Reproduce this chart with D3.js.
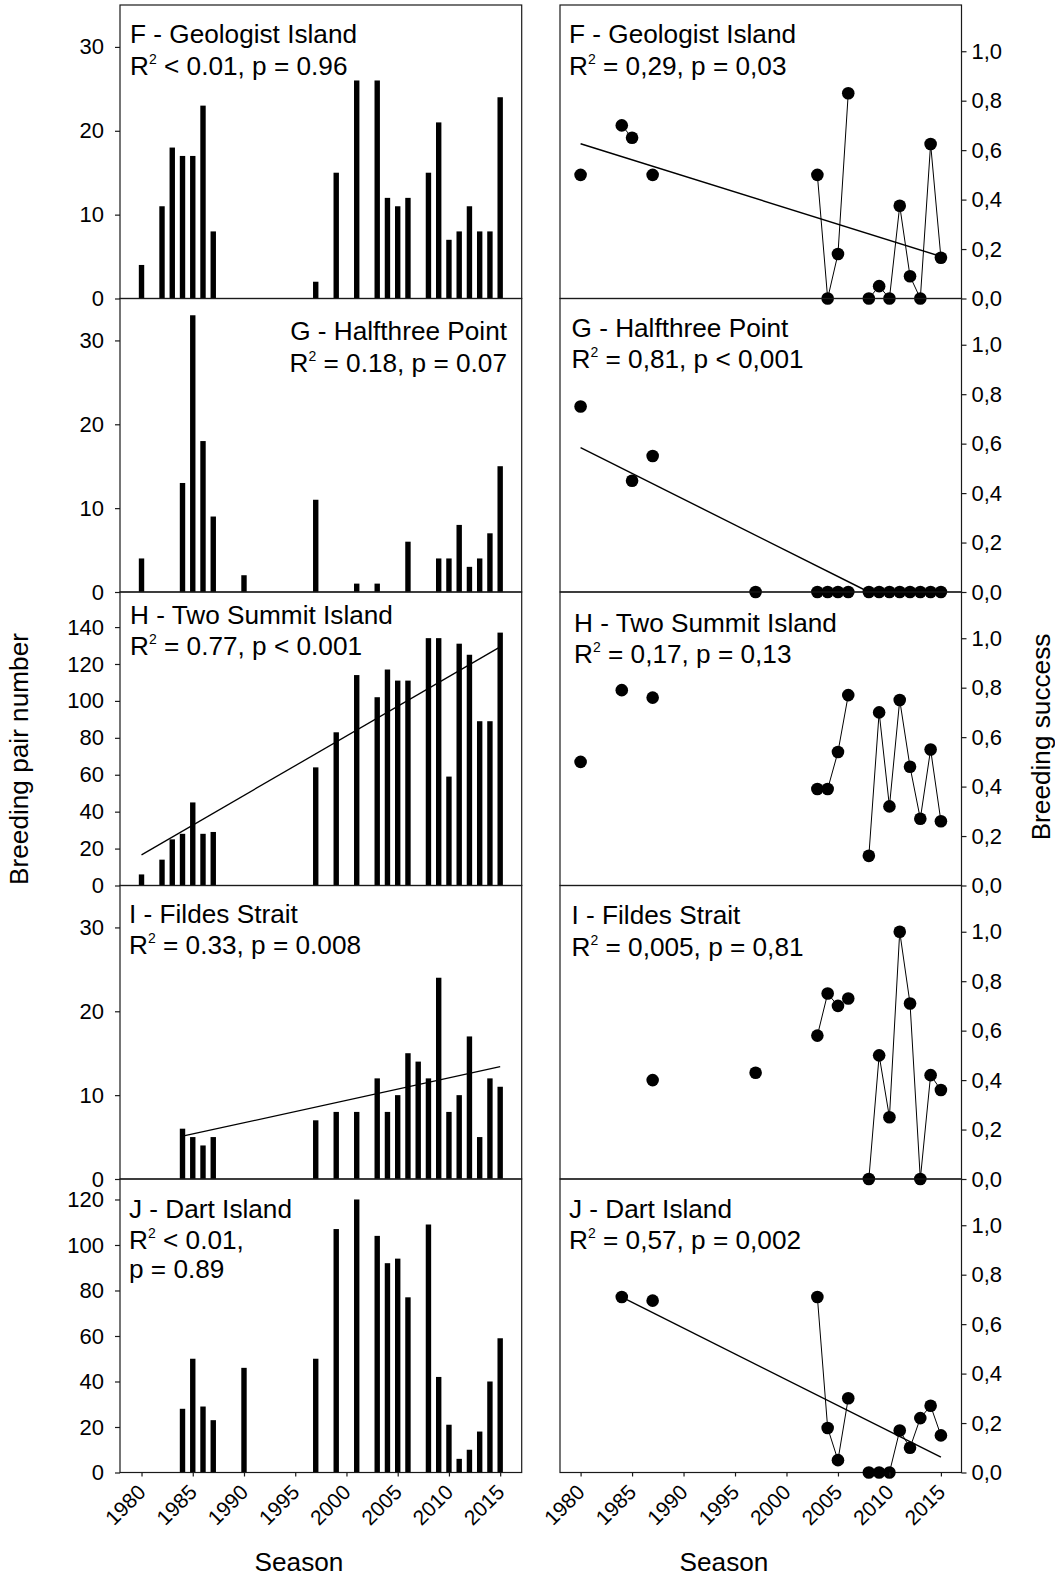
<!DOCTYPE html>
<html>
<head>
<meta charset="utf-8">
<script src="https://cdn.jsdelivr.net/npm/d3@7"></script>
<style>
body { margin: 0; background: #fff; }
svg { display: block; font-family: "Liberation Sans", Arial, sans-serif; }
text { white-space: pre; }
</style>
</head>
<body>
<div id="chart"></div>
<script>

// breeding pair numbers (left column)
const fPairYears = [1980,1982,1983,1984,1985,1986,1987,1997,1999,2001,2003,2004,2005,2006,2008,2009,2010,2011,2012,2013,2014,2015];
const fPairs     = [4,11,18,17,17,23,8,2,15,26,26,12,11,12,15,21,7,8,11,8,8,24];

const gPairYears = [1980,1984,1985,1986,1987,1990,1997,2001,2003,2006,2009,2010,2011,2012,2013,2014,2015];
const gPairs     = [4,13,33,18,9,2,11,1,1,6,4,4,8,3,4,7,15];

const hPairYears = [1980,1982,1983,1984,1985,1986,1987,1997,1999,2001,2003,2004,2005,2006,2008,2009,2010,2011,2012,2013,2014,2015];
const hPairs     = [6,14,25,28,45,28,29,64,83,114,102,117,111,111,134,134,59,131,125,89,89,137];

const iPairYears = [1984,1985,1986,1987,1997,1999,2001,2003,2004,2005,2006,2007,2008,2009,2010,2011,2012,2013,2014,2015];
const iPairs     = [6,5,4,5,7,8,8,12,8,10,15,14,12,24,8,10,17,5,12,11];

const jPairYears = [1984,1985,1986,1987,1990,1997,1999,2001,2003,2004,2005,2006,2008,2009,2010,2011,2012,2013,2014,2015];
const jPairs     = [28,50,29,23,46,50,107,120,104,92,94,77,109,42,21,6,10,18,40,59];

// breeding success (right column)
const fSuccYears = [1980,1984,1985,1987,2003,2004,2005,2006,2008,2009,2010,2011,2012,2013,2014,2015];
const fSucc      = [0.5,0.70,0.65,0.5,0.5,0,0.18,0.83,0,0.05,0,0.375,0.09,0,0.625,0.165];

const gSuccYears = [1980,1985,1987,1997,2003,2004,2005,2006,2008,2009,2010,2011,2012,2013,2014,2015];
const gSucc      = [0.75,0.45,0.55,0,0,0,0,0,0,0,0,0,0,0,0,0];

const hSuccYears = [1980,1984,1987,2003,2004,2005,2006,2008,2009,2010,2011,2012,2013,2014,2015];
const hSucc      = [0.5,0.79,0.76,0.39,0.39,0.54,0.77,0.12,0.70,0.32,0.75,0.48,0.27,0.55,0.26];

const iSuccYears = [1987,1997,2003,2004,2005,2006,2008,2009,2010,2011,2012,2013,2014,2015];
const iSucc      = [0.40,0.43,0.58,0.75,0.70,0.73,0,0.50,0.25,1.0,0.71,0,0.42,0.36];

const jSuccYears = [1984,1987,2003,2004,2005,2006,2008,2009,2010,2011,2012,2013,2014,2015];
const jSucc      = [0.71,0.695,0.71,0.18,0.05,0.30,0,0,0,0.17,0.10,0.22,0.27,0.15];

// regression lines (end points)
const hPairTrend = [[1980, 16.6], [2015, 129.3]];
const iPairTrend = [[1984, 5.1], [2015, 13.4]];
const fSuccTrend = [[1980, 0.626], [2015, 0.17]];
const gSuccTrend = [[1980, 0.584], [2008, 0]];
const jSuccTrend = [[1984, 0.709], [2015, 0.062]];

const siteNames = ["F - Geologist Island", "G - Halfthree Point", "H - Two Summit Island", "I - Fildes Strait", "J - Dart Island"];
const pairStats = [["< 0.01, p = 0.96"], ["= 0.18, p = 0.07"], ["= 0.77, p < 0.001"], ["= 0.33, p = 0.008"], ["< 0.01,", "p = 0.89"]];
const succStats = [["= 0,29, p = 0,03"], ["= 0,81, p < 0,001"], ["= 0,17, p = 0,13"], ["= 0,005, p = 0,81"], ["= 0,57, p = 0,002"]];

const pairMax = [35, 35, 159, 35, 129];
const pairTicks = [[0,10,20,30], [0,10,20,30], [0,20,40,60,80,100,120,140], [0,10,20,30], [0,20,40,60,80,100,120]];
const succTicks = [0, 0.2, 0.4, 0.6, 0.8, 1.0];
const seasonTicks = [1980, 1985, 1990, 1995, 2000, 2005, 2010, 2015];

const width = 1055, height = 1577;
const rowTop = 5, rowH = 293.5;
const leftX = [120, 521.7], rightX = [560, 961.5];
const ink = "#1a1a1a";
const labelSize = 26.2;

// label placement per panel
const pairLabelPos = [
	{x: 130, anchor: "start", ys: [38, 70]},
	{x: 507, anchor: "end", ys: [41, 73]},
	{x: 130, anchor: "start", ys: [32, 63]},
	{x: 129, anchor: "start", ys: [37, 68]},
	{x: 129, anchor: "start", ys: [39, 70, 99]}
];
const succLabelPos = [
	{x: 569, anchor: "start", ys: [38, 70]},
	{x: 571.5, anchor: "start", ys: [38.5, 69.5]},
	{x: 574, anchor: "start", ys: [40, 71]},
	{x: 571.5, anchor: "start", ys: [38.5, 70]},
	{x: 569, anchor: "start", ys: [38.7, 70.3]}
];

let svg = d3.select("#chart")
			.append("svg")
			.attr("width", width)
			.attr("height", height);

svg.append("rect").attr("width", width).attr("height", height).attr("fill", "#fff");

const xLeft = d3.scaleLinear().domain([1977.9, 2017.1]).range(leftX);
const xRight = d3.scaleLinear().domain([1978, 2017]).range(rightX);

function addLabel(row, pos, name, stats) {
	const top = rowTop + row * rowH;
	svg.append("text")
		.attr("x", pos.x)
		.attr("y", top + pos.ys[0])
		.attr("text-anchor", pos.anchor)
		.attr("font-size", labelSize)
		.attr("fill", "#000")
		.text(name);

	stats.forEach((s, i) => {
		let t = svg.append("text")
			.attr("x", pos.x)
			.attr("y", top + pos.ys[i + 1])
			.attr("text-anchor", pos.anchor)
			.attr("font-size", labelSize)
			.attr("fill", "#000");
		if (i === 0) {
			t.append("tspan").text("R");
			t.append("tspan").attr("font-size", 14).attr("dy", -11).text("2");
			t.append("tspan").attr("dy", 11).text(" " + s);
		} else {
			t.text(s);
		}
	});
}

// split a series into runs of consecutive seasons
function withGaps(years, values) {
	let pts = [];
	years.forEach((yr, i) => {
		if (i > 0 && yr - years[i - 1] > 1) pts.push(null);
		pts.push([yr, values[i]]);
	});
	return pts;
}

function frame(x0, x1, top) {
	svg.append("rect")
		.attr("x", x0)
		.attr("y", top)
		.attr("width", x1 - x0)
		.attr("height", rowH)
		.attr("fill", "none")
		.attr("stroke", ink)
		.attr("stroke-width", 1.2);
}

function drawPairs(row, years, pairs, trend) {
	const top = rowTop + row * rowH;
	const bottom = top + rowH;
	const yScale = d3.scaleLinear().domain([0, pairMax[row]]).range([bottom, top]);

	const data = years.map((yr, i) => ({year: yr, pairs: pairs[i]}));

	svg.append("g")
		.selectAll("rect")
		.data(data)
		.enter()
		.append("rect")
		.attr("x", (d) => xLeft(d.year) - 2.7)
		.attr("y", (d) => yScale(d.pairs))
		.attr("width", 5.4)
		.attr("height", (d) => bottom - yScale(d.pairs))
		.attr("fill", "#000");

	if (trend) {
		svg.append("path")
			.attr("d", d3.line().x(d => xLeft(d[0])).y(d => yScale(d[1]))(trend))
			.attr("fill", "none")
			.attr("stroke", "#000")
			.attr("stroke-width", 1.3);
	}

	frame(leftX[0], leftX[1], top);

	const yAxis = d3.axisLeft(yScale)
					.tickValues(pairTicks[row])
					.tickSize(5)
					.tickPadding(11)
					.tickFormat(d3.format("d"));
	let ag = svg.append("g")
		.attr("transform", `translate(${leftX[0]},0)`)
		.call(yAxis);
	ag.select(".domain").remove();
	ag.selectAll("line").attr("stroke", ink).attr("stroke-width", 1.2);
	ag.selectAll("text").attr("font-size", 22).attr("fill", "#000").attr("font-family", null);
}

function drawSuccess(row, years, succ, trend) {
	const top = rowTop + row * rowH;
	const bottom = top + rowH;
	const yScale = d3.scaleLinear().domain([0, 1.187]).range([bottom, top]);

	if (trend) {
		svg.append("path")
			.attr("d", d3.line().x(d => xRight(d[0])).y(d => yScale(d[1]))(trend))
			.attr("fill", "none")
			.attr("stroke", "#000")
			.attr("stroke-width", 1.4);
	}

	const pts = withGaps(years, succ);
	svg.append("path")
		.attr("d", d3.line().defined(d => d !== null).x(d => xRight(d[0])).y(d => yScale(d[1]))(pts))
		.attr("fill", "none")
		.attr("stroke", "#000")
		.attr("stroke-width", 1);

	frame(rightX[0], rightX[1], top);

	svg.append("g")
		.selectAll("circle")
		.data(years.map((yr, i) => ({year: yr, succ: succ[i]})))
		.enter()
		.append("circle")
		.attr("cx", (d) => xRight(d.year))
		.attr("cy", (d) => yScale(d.succ))
		.attr("r", 6.3)
		.attr("fill", "#000");

	const yAxis = d3.axisRight(yScale)
					.tickValues(succTicks)
					.tickSize(5)
					.tickPadding(5)
					.tickFormat(d => d3.format(".1f")(d).replace(".", ","));
	let ag = svg.append("g")
		.attr("transform", `translate(${rightX[1]},0)`)
		.call(yAxis);
	ag.select(".domain").remove();
	ag.selectAll("line").attr("stroke", ink).attr("stroke-width", 1.2);
	ag.selectAll("text").attr("font-size", 22).attr("fill", "#000").attr("font-family", null);
}

function seasonAxis(xScale) {
	const bottom = rowTop + 5 * rowH;
	const xAxis = d3.axisBottom(xScale)
					.tickValues(seasonTicks)
					.tickSize(4)
					.tickFormat(d3.format("d"));
	let ag = svg.append("g")
		.attr("transform", `translate(0,${bottom})`)
		.call(xAxis);
	ag.select(".domain").remove();
	ag.selectAll("line").attr("stroke", ink).attr("stroke-width", 1.2);
	ag.selectAll("text")
		.attr("font-size", 21)
		.attr("fill", "#000")
		.attr("font-family", null)
		.attr("x", 0)
		.attr("y", 0)
		.attr("dy", 0)
		.attr("transform", "translate(5,21) rotate(-45)")
		.style("text-anchor", "end");
}

drawPairs(0, fPairYears, fPairs, null);
drawPairs(1, gPairYears, gPairs, null);
drawPairs(2, hPairYears, hPairs, hPairTrend);
drawPairs(3, iPairYears, iPairs, iPairTrend);
drawPairs(4, jPairYears, jPairs, null);

drawSuccess(0, fSuccYears, fSucc, fSuccTrend);
drawSuccess(1, gSuccYears, gSucc, gSuccTrend);
drawSuccess(2, hSuccYears, hSucc, null);
drawSuccess(3, iSuccYears, iSucc, null);
drawSuccess(4, jSuccYears, jSucc, jSuccTrend);

siteNames.forEach((name, i) => {
	addLabel(i, pairLabelPos[i], name, pairStats[i]);
	addLabel(i, succLabelPos[i], name, succStats[i]);
});

seasonAxis(xLeft);
seasonAxis(xRight);

svg.append("text")
	.attr("x", 299)
	.attr("y", 1571)
	.attr("text-anchor", "middle")
	.attr("font-size", labelSize)
	.text("Season");

svg.append("text")
	.attr("x", 724)
	.attr("y", 1571)
	.attr("text-anchor", "middle")
	.attr("font-size", labelSize)
	.text("Season");

svg.append("text")
	.attr("transform", "translate(28,759) rotate(-90)")
	.attr("text-anchor", "middle")
	.attr("font-size", labelSize)
	.text("Breeding pair number");

svg.append("text")
	.attr("transform", "translate(1050,737) rotate(-90)")
	.attr("text-anchor", "middle")
	.attr("font-size", labelSize)
	.text("Breeding success");

</script>
</body>
</html>
